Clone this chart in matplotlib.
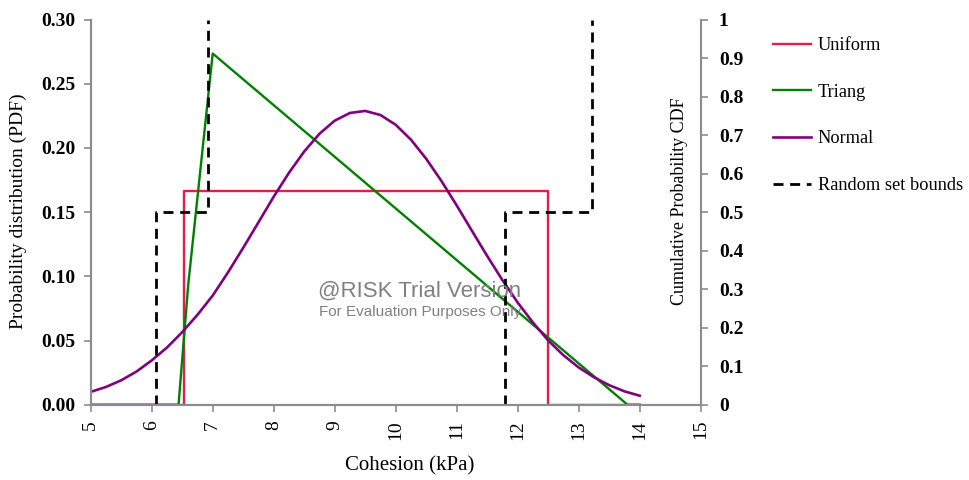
import matplotlib
matplotlib.use("Agg")
import matplotlib.pyplot as plt

# Uniform PDF (step outline)
uniform_x = [5, 6.53, 6.53, 12.5, 12.5, 14]
uniform_y = [0, 0, 0.1667, 0.1667, 0, 0]

# Triangular PDF
triang_x = [5, 6.44, 6.60, 7.0, 13.8, 14]
triang_y = [0, 0, 0.094, 0.2735, 0, 0]

# Normal PDF, read at 0.25 steps
normal_x = [5.0, 5.25, 5.5, 5.75, 6.0, 6.25, 6.5, 6.75, 7.0, 7.25, 7.5, 7.75,
            8.0, 8.25, 8.5, 8.75, 9.0, 9.25, 9.5, 9.75, 10.0, 10.25, 10.5,
            10.75, 11.0, 11.25, 11.5, 11.75, 12.0, 12.25, 12.5, 12.75, 13.0,
            13.25, 13.5, 13.75, 14.0]
normal_y = [0.0100, 0.0138, 0.0190, 0.0258, 0.0345, 0.0445, 0.0565, 0.0700,
            0.0850, 0.1030, 0.1222, 0.1420, 0.1620, 0.1806, 0.1972, 0.2110,
            0.2212, 0.2272, 0.2288, 0.2256, 0.2180, 0.2064, 0.1915, 0.1742,
            0.1552, 0.1354, 0.1158, 0.0970, 0.0795, 0.0640, 0.0500, 0.0385,
            0.0290, 0.0214, 0.0152, 0.0104, 0.0070]

# Random set bounds (CDF, right axis)
lower_x = [6.07, 6.07, 6.93, 6.93]
lower_y = [0, 0.5, 0.5, 1.0]
upper_x = [11.79, 11.79, 13.21, 13.21]
upper_y = [0, 0.5, 0.5, 1.0]

x_ticks = list(range(5, 16))
pdf_ticks = [0.00, 0.05, 0.10, 0.15, 0.20, 0.25, 0.30]
cdf_ticks = [0, 0.1, 0.2, 0.3, 0.4, 0.5, 0.6, 0.7, 0.8, 0.9, 1]
cdf_labels = ["0", "0.1", "0.2", "0.3", "0.4", "0.5", "0.6", "0.7", "0.8", "0.9", "1"]

serif = "Liberation Serif"
grey = "#8c8c8c"

fig = plt.figure(figsize=(9.69, 4.8), dpi=100)
ax = fig.add_axes([90.7 / 969, 1 - 404.7 / 480, (700.7 - 90.7) / 969, (404.7 - 19.5) / 480])
ax2 = ax.twinx()

l1, = ax.plot(uniform_x, uniform_y, color="#e0204a", lw=1.7, label="Uniform")
l2, = ax.plot(triang_x, triang_y, color="#008000", lw=1.7, label="Triang")
l3, = ax.plot(normal_x, normal_y, color="#800080", lw=1.9, label="Normal")
l4, = ax2.plot(lower_x, lower_y, color="black", lw=2.0, ls=(0, (3.6, 2.4)),
               label="Random set bounds")
ax2.plot(upper_x, upper_y, color="black", lw=2.0, ls=(0, (3.6, 2.4)))

ax.set_xlim(5, 15)
ax.set_ylim(0, 0.30)
ax2.set_ylim(0, 1)

ax.set_xticks(x_ticks)
ax.set_xticklabels([str(t) for t in x_ticks], fontfamily=serif, fontsize=14, rotation=90)
ax.set_yticks(pdf_ticks)
ax.set_yticklabels([f"{t:.2f}" for t in pdf_ticks], fontfamily=serif, fontsize=14,
                   fontweight="bold")
ax2.set_yticks(cdf_ticks)
ax2.set_yticklabels(cdf_labels, fontfamily=serif, fontsize=14, fontweight="bold")

for a in (ax, ax2):
    for s in a.spines.values():
        s.set_color(grey)
        s.set_linewidth(1.5)
    a.spines["top"].set_visible(False)
    a.tick_params(color=grey, width=1.2, length=5, direction="out")
ax.spines["right"].set_visible(False)
ax.tick_params(axis="x", pad=6)
ax.tick_params(axis="y", pad=6)
ax2.tick_params(axis="y", pad=8)

fig.text(18 / 969, 1 - 211 / 480, "Probability distribution (PDF)", rotation=90,
         ha="center", va="center", fontfamily=serif, fontsize=14)
fig.text(680 / 969, 1 - 201 / 480, "Cumulative Probability CDF", rotation=90,
         ha="center", va="center", fontfamily=serif, fontsize=13)
fig.text(410 / 969, 1 - 466 / 480, "Cohesion (kPa)", ha="center", va="center",
         fontfamily=serif, fontsize=15)

# @RISK watermark
fig.text(420 / 969, 1 - 291 / 480, "@RISK Trial Version", ha="center", va="center",
         fontfamily="Liberation Sans", fontsize=16, color="#808080")
fig.text(420 / 969, 1 - 312 / 480, "For Evaluation Purposes Only", ha="center",
         va="center", fontfamily="Liberation Sans", fontsize=11, color="#808080")

fig.legend(handles=[l1, l2, l3, l4], loc="upper left",
           bbox_to_anchor=(773 / 969, 1 - 37 / 480), frameon=False,
           prop={"family": serif, "size": 13.2}, handlelength=2.05,
           handletextpad=0.4, labelspacing=1.62, borderpad=0, borderaxespad=0)

fig.savefig("out.png", dpi=100)
